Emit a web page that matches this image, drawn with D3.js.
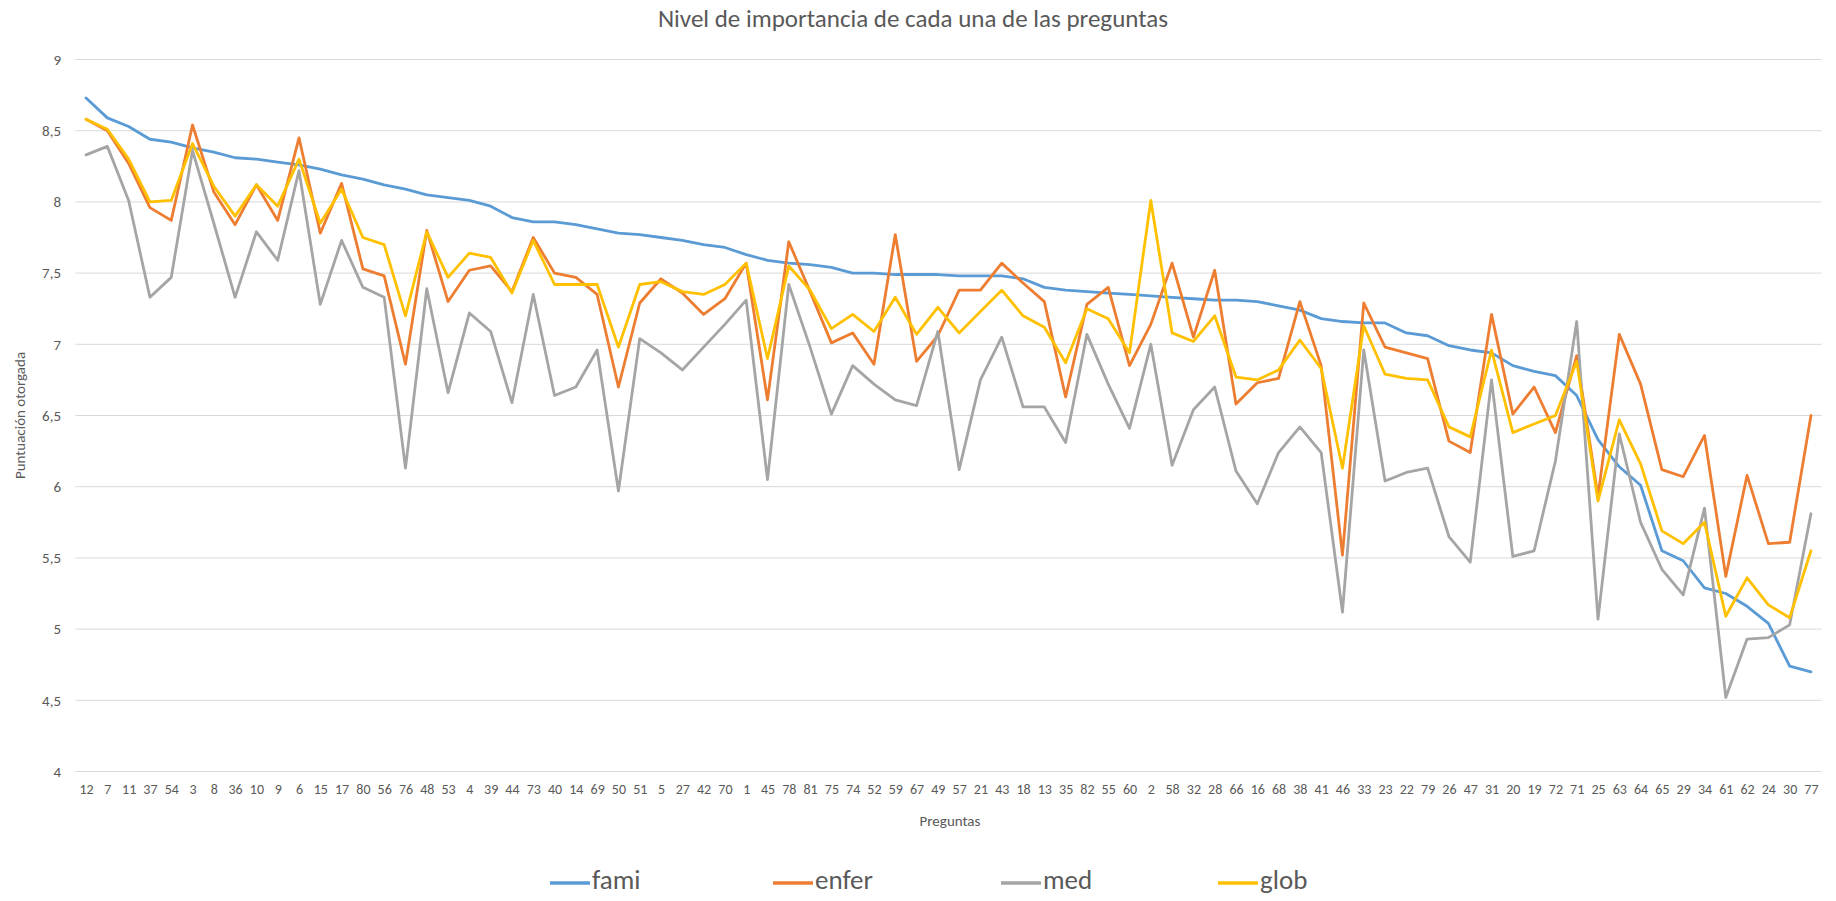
<!DOCTYPE html>
<html>
<head>
<meta charset="utf-8">
<script src="https://cdn.jsdelivr.net/npm/d3@7"></script>
<style>
  html, body { margin: 0; padding: 0; background: #ffffff; }
  svg { display: block; font-family: "Carlito", "Lato", sans-serif; }
</style>
</head>
<body>
<svg id="chart" width="1836" height="901"></svg>
<script>
const categories = ["12","7","11","37","54","3","8","36","10","9","6","15","17","80","56","76","48","53","4","39","44","73","40","14","69","50","51","5","27","42","70","1","45","78","81","75","74","52","59","67","49","57","21","43","18","13","35","82","55","60","2","58","32","28","66","16","68","38","41","46","33","23","22","79","26","47","31","20","19","72","71","25","63","64","65","29","34","61","62","24","30","77"];

const fami = [8.73,8.59,8.53,8.44,8.42,8.38,8.35,8.31,8.30,8.28,8.26,8.23,8.19,8.16,8.12,8.09,8.05,8.03,8.01,7.97,7.89,7.86,7.86,7.84,7.81,7.78,7.77,7.75,7.73,7.70,7.68,7.63,7.59,7.57,7.56,7.54,7.50,7.50,7.49,7.49,7.49,7.48,7.48,7.48,7.46,7.40,7.38,7.37,7.36,7.35,7.34,7.33,7.32,7.31,7.31,7.30,7.27,7.24,7.18,7.16,7.15,7.15,7.08,7.06,6.99,6.96,6.94,6.85,6.81,6.78,6.64,6.33,6.14,6.01,5.55,5.48,5.29,5.25,5.16,5.04,4.74,4.70];

const enfer = [8.58,8.50,8.27,7.96,7.87,8.54,8.07,7.84,8.12,7.87,8.45,7.78,8.13,7.53,7.48,6.86,7.80,7.30,7.52,7.55,7.37,7.75,7.50,7.47,7.35,6.70,7.29,7.46,7.36,7.21,7.32,7.57,6.61,7.72,7.37,7.01,7.08,6.86,7.77,6.88,7.06,7.38,7.38,7.57,7.43,7.30,6.63,7.28,7.40,6.85,7.14,7.57,7.05,7.52,6.58,6.73,6.76,7.30,6.85,5.52,7.29,6.98,6.94,6.90,6.32,6.24,7.21,6.51,6.70,6.38,6.92,5.93,7.07,6.72,6.12,6.07,6.36,5.37,6.08,5.60,5.61,6.50];

const med = [8.33,8.39,8.01,7.33,7.47,8.36,7.85,7.33,7.79,7.59,8.22,7.28,7.73,7.40,7.33,6.13,7.39,6.66,7.22,7.09,6.59,7.35,6.64,6.70,6.96,5.97,7.04,6.94,6.82,6.98,7.14,7.31,6.05,7.42,6.98,6.51,6.85,6.72,6.61,6.57,7.09,6.12,6.75,7.05,6.56,6.56,6.31,7.07,6.72,6.41,7.00,6.15,6.54,6.70,6.11,5.88,6.24,6.42,6.24,5.12,6.96,6.04,6.10,6.13,5.65,5.47,6.75,5.51,5.55,6.18,7.16,5.07,6.37,5.75,5.42,5.24,5.85,4.52,4.93,4.94,5.03,5.81];

const glob = [8.58,8.51,8.30,8.00,8.01,8.41,8.11,7.90,8.12,7.97,8.30,7.85,8.09,7.75,7.70,7.20,7.79,7.47,7.64,7.61,7.36,7.73,7.42,7.42,7.42,6.98,7.42,7.44,7.37,7.35,7.42,7.57,6.90,7.55,7.38,7.11,7.21,7.09,7.33,7.07,7.26,7.08,7.23,7.38,7.20,7.12,6.87,7.25,7.18,6.94,8.01,7.08,7.02,7.20,6.77,6.75,6.82,7.03,6.83,6.13,7.13,6.79,6.76,6.75,6.42,6.35,6.96,6.38,6.44,6.50,6.88,5.90,6.47,6.16,5.69,5.60,5.75,5.09,5.36,5.17,5.08,5.55];

const yTicks = [4,4.5,5,5.5,6,6.5,7,7.5,8,8.5,9];
const seriesNames = ["fami","enfer","med","glob"];
const seriesColors = ["#5B9BD5","#ED7D31","#A5A5A5","#FFC000"];
const seriesData = [fami, enfer, med, glob];

const svg = d3.select("#chart");
const textColor = "#595959";

const plotLeft = 75.4, plotRight = 1821.6, plotTop = 59.5, plotBottom = 771.5;

const x = d3.scalePoint().domain(categories).range([plotLeft, plotRight]).padding(0.5);
const y = d3.scaleLinear().domain([4, 9]).range([plotBottom, plotTop]);

// gridlines
svg.append("g")
  .selectAll("line")
  .data(yTicks)
  .join("line")
  .attr("x1", plotLeft).attr("x2", plotRight)
  .attr("y1", d => y(d)).attr("y2", d => y(d))
  .attr("stroke", "#D9D9D9").attr("stroke-width", 1);

// y axis labels
const fmt = d => String(d).replace(".", ",");
const yAxis = d3.axisLeft(y).tickValues(yTicks).tickFormat(fmt).tickSize(0).tickPadding(0);
const gy = svg.append("g").attr("transform", `translate(61,0)`).call(yAxis);
gy.select(".domain").remove();
gy.selectAll("text").attr("fill", textColor).style("font-size", "15px").style("font-family", '"Carlito","Lato",sans-serif');

// x axis labels
const xAxis = d3.axisBottom(x).tickSize(0).tickPadding(0);
const gx = svg.append("g").attr("transform", `translate(0,784)`).call(xAxis);
gx.select(".domain").remove();
gx.selectAll("text").attr("fill", textColor).style("font-size", "14px").style("font-family", '"Carlito","Lato",sans-serif').attr("dy", "0.71em");

// lines
const line = d3.line().x((d, i) => x(categories[i])).y(d => y(d));
svg.append("g")
  .selectAll("path")
  .data(seriesData)
  .join("path")
  .attr("d", d => line(d))
  .attr("fill", "none")
  .attr("stroke", (d, i) => seriesColors[i])
  .attr("stroke-width", 2.8)
  .attr("stroke-linejoin", "round")
  .attr("stroke-linecap", "round");

// title
svg.append("text")
  .attr("x", 913).attr("y", 21)
  .attr("text-anchor", "middle").attr("dominant-baseline", "middle")
  .attr("fill", textColor)
  .style("font-size", "25px")
  .text("Nivel de importancia de cada una de las preguntas");

// x axis title
svg.append("text")
  .attr("x", 950).attr("y", 822)
  .attr("text-anchor", "middle").attr("dominant-baseline", "middle")
  .attr("fill", textColor)
  .style("font-size", "15px")
  .text("Preguntas");

// y axis title
svg.append("text")
  .attr("transform", `translate(21,${(plotTop + plotBottom) / 2}) rotate(-90)`)
  .attr("text-anchor", "middle").attr("dominant-baseline", "middle")
  .attr("fill", textColor)
  .style("font-size", "15px")
  .text("Puntuación otorgada");

// legend
const legendX = [550, 773, 1001, 1218];
const lg = svg.append("g").selectAll("g").data(seriesNames).join("g")
  .attr("transform", (d, i) => `translate(${legendX[i]},883)`);
lg.append("line").attr("x1", 0).attr("x2", 40).attr("y1", 0).attr("y2", 0)
  .attr("stroke", (d, i) => seriesColors[i]).attr("stroke-width", 3.5);
lg.append("text").attr("x", 42).attr("y", 0).attr("dominant-baseline", "middle")
  .attr("fill", textColor).style("font-size", "27px").text(d => d);
</script>
</body>
</html>
